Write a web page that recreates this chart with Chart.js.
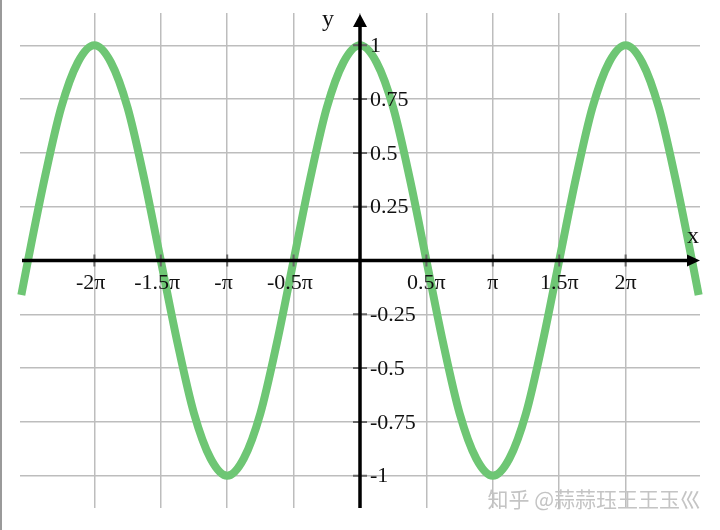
<!DOCTYPE html>
<html lang="zh">
<head>
<meta charset="UTF-8">
<title>y = cos x</title>
<script src="https://cdn.jsdelivr.net/npm/chart.js"></script>
<style>
  html, body { margin: 0; padding: 0; background: #fff; }
  .wrap { width: 720px; height: 530px; position: relative; }
</style>
</head>
<body>
<div class="wrap"><canvas id="cosChart"></canvas></div>
<script>
// x in units of pi
const xPi = [-2.55, -2.5, -2.375, -2.25, -2.125, -2, -1.875, -1.75, -1.625, -1.5, -1.375, -1.25, -1.125, -1,
  -0.875, -0.75, -0.625, -0.5, -0.375, -0.25, -0.125, 0, 0.125, 0.25, 0.375, 0.5, 0.625, 0.75, 0.875, 1,
  1.125, 1.25, 1.375, 1.5, 1.625, 1.75, 1.875, 2, 2.125, 2.25, 2.375, 2.5, 2.55];
const yVal = [-0.16, 0, 0.38, 0.71, 0.92, 1, 0.92, 0.71, 0.38, 0, -0.38, -0.71, -0.92, -1,
  -0.92, -0.71, -0.38, 0, 0.38, 0.71, 0.92, 1, 0.92, 0.71, 0.38, 0, -0.38, -0.71, -0.92, -1,
  -0.92, -0.71, -0.38, 0, 0.38, 0.71, 0.92, 1, 0.92, 0.71, 0.38, 0, -0.16];

const xTicks = [-2, -1.5, -1, -0.5, 0.5, 1, 1.5, 2];
const xTickLabels = ['-2π', '-1.5π', '-π', '-0.5π', '0.5π', 'π', '1.5π', '2π'];
const xGrid = [-2, -1.5, -1, -0.5, 0, 0.5, 1, 1.5, 2];
const yTicks = [1, 0.75, 0.5, 0.25, -0.25, -0.5, -0.75, -1];
const yTickLabels = ['1', '0.75', '0.5', '0.25', '-0.25', '-0.5', '-0.75', '-1'];

const serif = '"Liberation Serif", "DejaVu Serif", serif';

const axesPlugin = {
  id: 'axes',
  afterDatasetsDraw(chart) {
    const { ctx, chartArea: a, scales: { x, y } } = chart;
    const x0 = x.getPixelForValue(0), y0 = y.getPixelForValue(0);
    ctx.save();

    // tick marks
    ctx.strokeStyle = '#666';
    ctx.lineWidth = 2;
    ctx.beginPath();
    xTicks.forEach(v => {
      const px = x.getPixelForValue(v);
      ctx.moveTo(px, y0 - 6); ctx.lineTo(px, y0 + 6);
    });
    yTicks.forEach(v => {
      const py = y.getPixelForValue(v);
      ctx.moveTo(x0 - 7, py); ctx.lineTo(x0 + 7, py);
    });
    ctx.stroke();

    // axis lines
    ctx.strokeStyle = '#000';
    ctx.fillStyle = '#000';
    ctx.lineWidth = 3.5;
    ctx.beginPath();
    ctx.moveTo(a.left + 2, y0); ctx.lineTo(a.right - 10, y0);
    ctx.moveTo(x0, a.bottom); ctx.lineTo(x0, a.top + 12);
    ctx.stroke();

    // arrow heads
    ctx.beginPath();
    ctx.moveTo(a.right, y0); ctx.lineTo(a.right - 13, y0 - 6); ctx.lineTo(a.right - 13, y0 + 6);
    ctx.closePath();
    ctx.moveTo(x0, a.top + 1); ctx.lineTo(x0 - 7, a.top + 14); ctx.lineTo(x0 + 7, a.top + 14);
    ctx.closePath();
    ctx.fill();

    // tick labels
    ctx.font = '22px ' + serif;
    ctx.fillStyle = '#111';
    ctx.textBaseline = 'middle';
    ctx.textAlign = 'center';
    const minusW = ctx.measureText('-').width;
    xTicks.forEach((v, i) => {
      const t = xTickLabels[i];
      const shift = t.startsWith('-') ? -minusW / 2 : 0;
      ctx.fillText(t, x.getPixelForValue(v) + shift, y0 + 23);
    });
    ctx.textAlign = 'left';
    yTicks.forEach((v, i) => {
      ctx.fillText(yTickLabels[i], x0 + 10, y.getPixelForValue(v) + 1);
    });

    // axis names
    ctx.font = '24px ' + serif;
    ctx.textAlign = 'center';
    ctx.fillText('y', x0 - 32, a.top + 7);
    ctx.fillText('x', a.right - 7, y0 - 24);
    ctx.restore();
  },
  afterDraw(chart) {
    const { ctx } = chart;
    ctx.save();
    // left border of the picture
    ctx.fillStyle = '#9a9a9a';
    ctx.fillRect(0, 0, 2, chart.height);
    // watermark
    ctx.font = '21px "Noto Sans CJK SC", sans-serif';
    ctx.textBaseline = 'middle';
    ctx.textAlign = 'right';
    ctx.fillStyle = '#c4c4c4';
    ctx.fillText('知乎 @蒜蒜珏王王玉巛', 701, 499);
    ctx.restore();
  }
};

new Chart(document.getElementById('cosChart'), {
  type: 'scatter',
  data: {
    datasets: [{
      data: xPi.map((v, i) => ({ x: v, y: yVal[i] })),
      showLine: true,
      borderColor: 'rgb(110, 198, 116)',
      borderWidth: 8,
      pointRadius: 0,
      cubicInterpolationMode: 'monotone',
      clip: false
    }]
  },
  options: {
    responsive: true,
    maintainAspectRatio: false,
    animation: false,
    layout: { padding: { left: 20, right: 20, top: 13, bottom: 22 } },
    plugins: { legend: { display: false }, tooltip: { enabled: false } },
    scales: {
      x: {
        type: 'linear',
        min: -2.56,
        max: 2.56,
        afterBuildTicks: s => { s.ticks = xGrid.map(v => ({ value: v })); },
        afterFit: s => { s.height = 0; },
        ticks: { display: false },
        border: { display: false },
        grid: { color: '#bdbdbd', lineWidth: 1.5, drawTicks: false }
      },
      y: {
        type: 'linear',
        min: -1.15,
        max: 1.15,
        afterBuildTicks: s => { s.ticks = yTicks.map(v => ({ value: v })); },
        afterFit: s => { s.width = 0; },
        ticks: { display: false },
        border: { display: false },
        grid: { color: '#bdbdbd', lineWidth: 1.5, drawTicks: false }
      }
    }
  },
  plugins: [axesPlugin]
});
</script>
</body>
</html>
